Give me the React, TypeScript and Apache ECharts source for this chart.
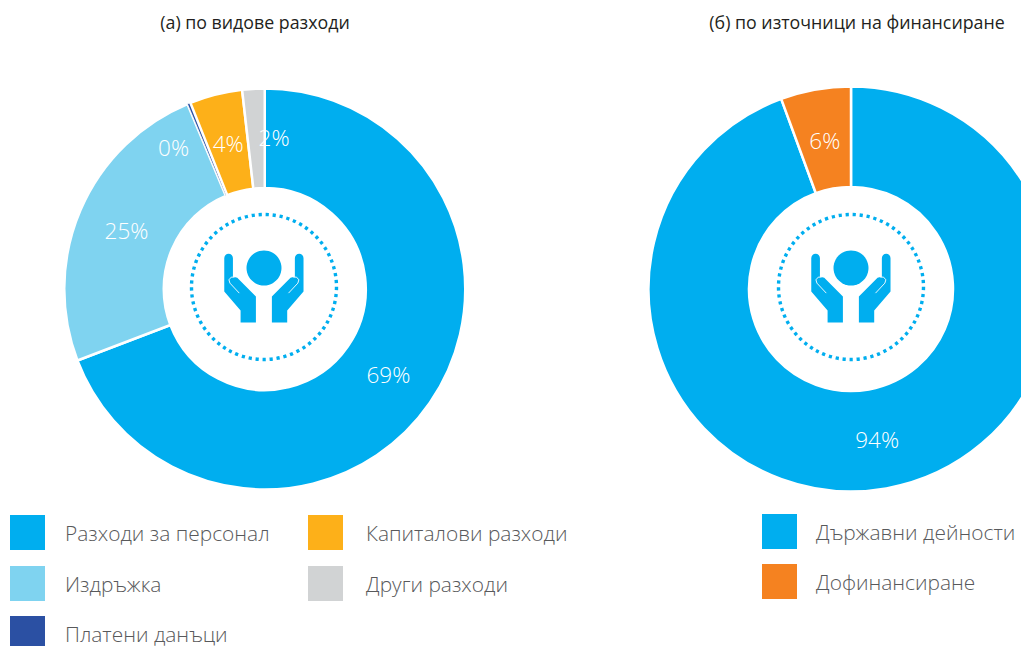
import React, { useEffect, useRef } from "react";
import * as echarts from "echarts";

const expenseNames = ["Разходи за персонал", "Издръжка", "Платени данъци", "Капиталови разходи", "Други разходи"];
const expenseValues = [69.2, 24.5, 0.25, 4.25, 1.8];
const expenseColors = ["#00aeef", "#7fd3f0", "#2b50a3", "#fdb019", "#d1d3d4"];
const sourceNames = ["Държавни дейности", "Дофинансиране"];
const sourceValues = [94.4, 5.6];
const sourceColors = ["#00aeef", "#f58220"];
const titles = ["(а) по видове разходи", "(б) по източници на финансиране"];

const FONT = '"Open Sans", "Noto Sans", sans-serif';
const BLUE = "#00aeef";

const leftHand =
  "M193 535 A13 13 0 0 1 219 535 L219 592 Q222 590 232 594 L288 650 L288 728 L242 728 L242 692 L193 635 Z";
const rightHand =
  "M431 535 A13 13 0 0 0 405 535 L405 592 Q402 590 392 594 L336 650 L336 728 L382 728 L382 692 L431 635 Z";
echarts.graphic.registerShape("leftHand", echarts.graphic.extendPath(leftHand, {}));
echarts.graphic.registerShape("rightHand", echarts.graphic.extendPath(rightHand, {}));

function emblem(cx: number, cy: number) {
  // The icon was traced in a frame whose centre is at (312, 621), 3x enlarged.
  const ox = cx - 312 / 3;
  const oy = cy - 621 / 3;
  const thumb = (pts: number[][]) => ({
    type: "polyline",
    x: ox,
    y: oy,
    scaleX: 1 / 3,
    scaleY: 1 / 3,
    shape: { points: pts },
    style: { fill: "none", stroke: "#e8f7fd", lineWidth: 3 },
    z: 11,
  });
  return [
    {
      type: "circle",
      shape: { cx, cy, r: 72.5 },
      style: { fill: "none", stroke: BLUE, lineWidth: 3.4, lineDash: [3.2, 3.8] },
      z: 10,
    },
    { type: "circle", shape: { cx: cx, cy: cy - 19, r: 17.5 }, style: { fill: BLUE }, z: 10 },
    { type: "leftHand", x: ox, y: oy, scaleX: 1 / 3, scaleY: 1 / 3, style: { fill: BLUE }, z: 10 },
    { type: "rightHand", x: ox, y: oy, scaleX: 1 / 3, scaleY: 1 / 3, style: { fill: BLUE }, z: 10 },
    thumb([[238, 640], [210, 610], [207, 600], [214, 592], [224, 592]]),
    thumb([[386, 640], [414, 610], [417, 600], [410, 592], [400, 592]]),
  ];
}

const legendBase = {
  orient: "vertical",
  icon: "rect",
  itemWidth: 35,
  itemHeight: 35,
  selectedMode: false,
  padding: 0,
  itemStyle: { borderWidth: 0 },
};
const legendText = (pad: number) => ({
  fontFamily: FONT,
  fontSize: 20.9,
  fontWeight: 300,
  color: "#58595b",
  padding: [2, 0, 0, pad],
});

const pieBase = {
  type: "pie",
  startAngle: 90,
  clockwise: true,
  avoidLabelOverlap: false,
  labelLine: { show: false },
  itemStyle: { borderColor: "#ffffff", borderWidth: 2.5 },
  emphasis: { disabled: true },
};

const labelBase = {
  show: true,
  position: "inside",
  fontFamily: FONT,
  fontSize: 22.5,
  fontWeight: 300,
  color: "#ffffff",
  formatter: (p: any) => `${Math.round(p.value)}%`,
};

const expenseLabelShift: Record<number, number[]> = {
  0: [-3, -2],
  1: [3, 2],
  2: [-33, 1],
  3: [1, 4],
  4: [18, 2],
};
const sourceLabelShift: Record<number, number[]> = { 0: [-1, -2], 1: [1, 4] };

const titleStyle = { fontFamily: FONT, fontSize: 17.8, fontWeight: "normal", color: "#231f20" };

export default function App() {
  const ref = useRef<HTMLDivElement>(null);
  useEffect(() => {
    document.body.style.margin = "0";
    document.body.style.overflow = "hidden";
    const chart = echarts.init(ref.current!, undefined, { renderer: "svg" });
    chart.setOption({
      animation: false,
      backgroundColor: "#ffffff",
      title: [
        { text: titles[0], left: 250, top: 8, textAlign: "center", textStyle: titleStyle },
        { text: titles[1], left: 852, top: 8, textAlign: "center", textStyle: titleStyle },
      ],
      legend: [
        { ...legendBase, left: 10, top: 515, itemGap: 16, data: expenseNames.slice(0, 2), textStyle: legendText(15) },
        { ...legendBase, left: 10, top: 616, data: expenseNames.slice(2, 3), textStyle: legendText(15) },
        { ...legendBase, left: 308, top: 515, itemGap: 16, data: expenseNames.slice(3), textStyle: legendText(18) },
        { ...legendBase, left: 762, top: 514, itemGap: 15, data: sourceNames, textStyle: legendText(14) },
      ],
      series: [
        {
          ...pieBase,
          center: [264.75, 289],
          radius: [101, 200.5],
          label: labelBase,
          labelLayout: (p: any) => {
            const s = expenseLabelShift[p.dataIndex];
            return { dx: s[0], dy: s[1] };
          },
          data: expenseNames.map((name, i) => ({
            name,
            value: expenseValues[i],
            itemStyle: { color: expenseColors[i], borderWidth: expenseValues[i] < 1 ? 0.8 : 2.5 },
          })),
        },
        {
          ...pieBase,
          center: [851, 289],
          radius: [102, 202.5],
          label: labelBase,
          labelLayout: (p: any) => {
            const s = sourceLabelShift[p.dataIndex];
            return { dx: s[0], dy: s[1] };
          },
          data: sourceNames.map((name, i) => ({
            name,
            value: sourceValues[i],
            itemStyle: { color: sourceColors[i] },
          })),
        },
      ],
      graphic: [...emblem(264, 287), ...emblem(851, 287)],
    });
    return () => chart.dispose();
  }, []);
  return <div ref={ref} style={{ width: 1021, height: 646 }} />;
}
